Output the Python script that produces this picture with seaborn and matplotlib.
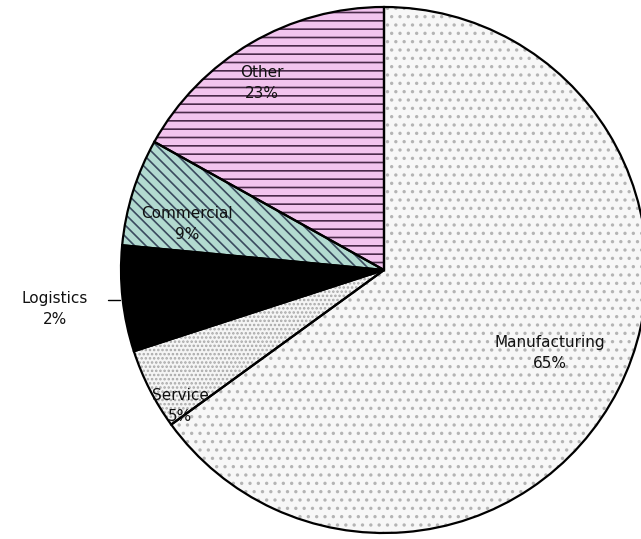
import matplotlib
matplotlib.use("Agg")
import matplotlib.pyplot as plt
import seaborn as sns

sns.set_theme(style="white")
plt.rcParams['font.family'] = ['DejaVu Sans']
plt.rcParams['hatch.linewidth'] = 1.2

# Data (clockwise from 12 o'clock)
categories = ["Manufacturing", "Service", "Logistics", "Commercial", "Other"]
values = [65.0, 5.0, 6.5, 6.6, 16.9]
pct_labels = ["65%", "5%", "2%", "9%", "23%"]

face_colors = ["#f7f7f7", "#f5f5f5", "#000000", "#b2dad0", "#f2c4ee"]
hatch_colors = ["#b4b4b4", "#a8a8a8", "#000000", "#3a4a5e", "#4a2a4a"]
hatches = ["..", "....", "", "\\\\\\", "--"]

fig = plt.figure(figsize=(6.41, 5.39), dpi=100)
W, H = 641, 539
cx, cy, r = 384, 270, 263
ax = fig.add_axes([(cx - r) / W, (H - cy - r) / H, 2 * r / W, 2 * r / H])

# filled + hatched layer
wedges, _ = ax.pie(values, startangle=90, counterclock=False, radius=1,
                   colors=face_colors,
                   wedgeprops=dict(linewidth=0))
for w, hc, h in zip(wedges, hatch_colors, hatches):
    w.set_hatch(h)
    w.set_edgecolor(hc)
    w.set_linewidth(0)

# outline layer
ax.pie(values, startangle=90, counterclock=False, radius=1,
       wedgeprops=dict(fill=False, edgecolor='black', linewidth=1.6))

ax.set_xlim(-1, 1)
ax.set_ylim(-1, 1)
ax.set_aspect('equal')
ax.axis('off')

# labels
def px(x, y):
    return (x - cx) / r, (cy - y) / r

label_pos = [(550, 353), (180, 406), (55, 309), (187, 224), (262, 83)]
for name, pct, (x, y) in zip(categories, pct_labels, label_pos):
    dx, dy = px(x, y)
    ax.text(dx, dy, f"{name}\n{pct}", ha='center', va='center',
            fontsize=11, color='#111111', linespacing=1.45, clip_on=False)

# Logistics leader line
x0, y0 = px(108, 300)
x1, y1 = px(120, 300)
ax.plot([x0, x1], [y0, y1], color='black', lw=1.0, clip_on=False)

fig.savefig("out.png", dpi=100)
